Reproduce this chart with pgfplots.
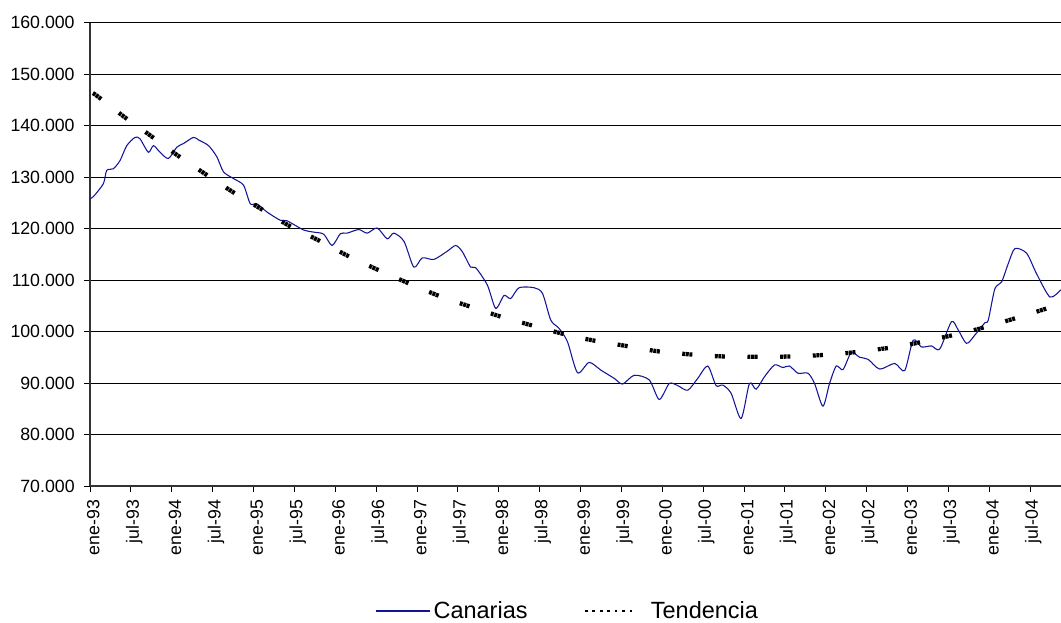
\documentclass[border=0pt]{standalone}
\usepackage{pgfplots}
\pgfplotsset{compat=1.18}
\usepackage{fontspec}
\setmainfont{Liberation Sans}
\definecolor{serie}{RGB}{20,20,150}
\pgfplotsset{trendlegend/.style={legend image code/.code={\draw[black, solid, line width=2pt, dash pattern=on 2pt off 3.6pt, dash phase=0pt] (0pt,0pt) -- (38.5pt,0pt); \path[draw=none] (0pt,0pt) -- (47.5pt,0pt);}}}
\begin{document}
\begin{tikzpicture}
\path[use as bounding box] (0,0) rectangle (795.75pt,467.25pt);
\begin{axis}[
  at={(67.5pt,102.75pt)}, anchor=south west,
  scale only axis, width=728.25pt, height=347.6pt,
  xmin=0, xmax=142.55, ymin=70, ymax=160,
  axis x line=bottom, axis y line=left,
  axis line style={-, line width=1.1pt, black!80},
  ytick={70,80,...,160},
  yticklabels={70.000,80.000,90.000,100.000,110.000,120.000,130.000,140.000,150.000,160.000},
  xtick={0,6,...,138},
  xticklabels={ene-93,jul-93,ene-94,jul-94,ene-95,jul-95,ene-96,jul-96,ene-97,jul-97,ene-98,jul-98,ene-99,jul-99,ene-00,jul-00,ene-01,jul-01,ene-02,jul-02,ene-03,jul-03,ene-04,jul-04},
  tick align=outside, major tick length=4.5pt,
  tick style={black, line width=0.6pt},
  ymajorgrids, major grid style={black, line width=0.7pt},
  ticklabel style={font=\fontsize{13.3}{16}\selectfont},
  xticklabel style={rotate=90, anchor=east, xshift=-2.5pt, yshift=-2.5pt},
  yticklabel style={xshift=-3.5pt},
  clip=true,
  legend columns=-1,
  legend style={at={(0.2935,-0.2697)}, anchor=west, draw=none, fill=none,
    inner sep=0pt, font=\fontsize{17.6}{20}\selectfont,
    /tikz/every even column/.append style={column sep=40pt}},
]
\addplot[serie, line width=0.8pt, smooth, tension=0.45,
  legend image code/.code={\draw[serie, line width=0.8pt] (0pt,0pt) -- (41pt,0pt);}]
coordinates {
(0,125.8) (0.5,126.2) (1.96,128.7) (2.46,131.3) (3.43,131.6) (4.41,133.2) (5.4,136.1)
(6.62,137.7) (7.35,137.4) (8.57,134.8) (9.31,136.1) (10.29,134.8) (11.51,133.6)
(12.75,135.8) (13.72,136.5) (15.19,137.7) (15.93,137.2) (17.4,136.1) (18.63,133.9)
(19.6,131.0) (21.07,129.7) (22.54,128.4) (23.53,124.8) (24.51,124.8) (25.99,123.2)
(27.94,121.6) (28.93,121.5) (31.37,119.7) (32.84,119.3) (34.31,118.9) (35.54,116.7)
(36.76,119.0) (37.75,119.1) (39.46,119.8) (40.69,119.1) (42.16,120.1) (43.63,118.0)
(44.6,119.1) (46.1,117.5) (47.54,112.5) (48.78,114.3) (50.49,114.0) (52.46,115.6)
(53.68,116.7) (54.66,115.5) (55.88,112.5) (56.62,112.4) (58.34,109.0) (59.56,104.5)
(60.78,107.0) (61.76,106.4) (62.99,108.5) (65.19,108.5) (66.43,107.4) (67.65,102.2)
(68.87,100.6) (70.1,98.0) (71.57,92.0) (73.28,94.0) (75.0,92.5) (76.96,90.9)
(78.19,89.8) (79.9,91.5) (82.1,90.6) (83.57,86.8) (85.04,89.9) (86.28,89.5)
(87.75,88.6) (89.22,90.9) (90.69,93.3) (91.91,89.5) (92.9,89.6) (94.12,88.0)
(95.59,83.1) (96.81,89.9) (97.79,88.8) (99.01,91.2) (100.49,93.5) (101.72,93.0)
(102.69,93.3) (103.93,91.9) (105.4,91.9) (106.37,89.9) (107.6,85.5) (108.57,89.9)
(109.56,93.3) (110.54,92.6) (111.76,95.9) (112.99,95.0) (114.22,94.6) (115.93,92.7)
(118.13,93.8) (119.6,92.4) (120.84,98.3) (122.06,97.0) (123.53,97.2) (124.75,96.6)
(126.47,101.9) (127.46,100.3) (128.68,97.7) (129.9,99.3) (131.37,101.7) (131.87,102.2)
(132.84,108.3) (133.82,109.6) (134.81,113.2) (135.78,116.1) (137.5,115.2) (138.97,111.2)
(140.93,106.7) (142.5,108.1)
};
\addlegendentry{Canarias}
\addplot[black, line width=3.2pt, smooth, forget plot,
  dash pattern=on 2.2pt off 0.5pt on 2.2pt off 0.5pt on 2.2pt off 16.9pt, dash phase=22pt]
coordinates {
(0,146.6) (0.99,145.8) (4.9,141.8) (8.82,138.1) (12.75,134.3) (16.91,130.6) (20.84,127.2)
(25,123.9) (29.16,120.6) (33.57,117.7) (37.99,114.6) (42.4,111.9) (47.06,109.2)
(51.47,106.8) (55.88,104.8) (60.54,102.8) (65.1,101.1) (69.6,99.5) (74.12,98.2)
(78.68,97.2) (83.09,96.2) (87.65,95.6) (92.16,95.2) (96.57,95.1) (101.22,95.1)
(105.78,95.3) (110.29,95.7) (114.81,96.4) (119.26,97.2) (123.87,98.5) (128.43,99.8)
(132.84,101.4) (137.4,103.2) (141.91,105.1) (142.5,105.4)
};
\addlegendimage{trendlegend}
\addlegendentry{Tendencia}
\end{axis}
\end{tikzpicture}
\end{document}
